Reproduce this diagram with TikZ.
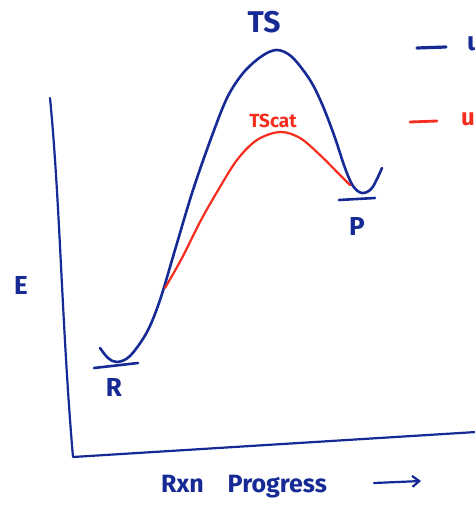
\documentclass[tikz,border=0pt]{standalone}
\usepackage{fontspec}
\setmainfont{Fira Sans}
\usetikzlibrary{arrows.meta}
\definecolor{inkblue}{RGB}{22,42,150}
\definecolor{inkred}{RGB}{245,45,30}
\begin{document}
\begin{tikzpicture}[x=1pt,y=-1pt,
  line cap=round, line join=round,
  bluepen/.style={draw=inkblue, line width=2.6pt},
  redpen/.style={draw=inkred, line width=2.2pt},
  bluelab/.style={text=inkblue, font=\bfseries\fontsize{26}{28}\selectfont, inner sep=0pt},
  redlab/.style={text=inkred, font=\bfseries\fontsize{19}{21}\selectfont, inner sep=0pt}]
\useasboundingbox (0,0) rectangle (474,510);
% axes
\coordinate (ytop) at (50,98);
\coordinate (corner) at (73,457);
\coordinate (xend) at (476,432);
\draw[bluepen, line width=2.2pt] (ytop) .. controls (60,200) and (62,330) .. (corner) -- (xend);
% labels
\node[bluelab] (E) at (21,285) {E};
\node[bluelab, font=\bfseries\fontsize{25}{27}\selectfont] (rxn) at (244,487) {Rxn\hspace{24pt}Progress};
\coordinate (arrs) at (374,483);
\coordinate (arre) at (421,481);
\draw[bluepen, line width=2.2pt, -{Straight Barb[length=7pt,width=11pt]}] (arrs) -- (arre);
% blue curve
\draw[bluepen] plot[smooth, tension=0.55] coordinates {(100,348) (108,358) (117,362) (130,356) (147,332) (160,300) (175,250) (193,190) (213,133) (228,96) (244,72) (262,56) (277,50) (292,57) (310,80) (322,104) (334,135) (345,168) (353,186) (362,193) (372,188) (382,168)};
% red curve
\draw[redpen] plot[smooth, tension=0.55] coordinates {(165,288) (182,258) (200,222) (217,192) (237,160) (257,140) (280,132) (300,138) (320,155) (338,173) (350,185)};
% R and P levels
\coordinate (r1) at (94,368); \coordinate (r2) at (138,363);
\draw[bluepen] (r1) -- (r2);
\coordinate (p1) at (339,200); \coordinate (p2) at (375,198);
\draw[bluepen] (p1) -- (p2);
\node[bluelab] (R) at (114,387) {R};
\node[bluelab] (P) at (357,226) {P};
\node[bluelab, font=\bfseries\fontsize{30}{32}\selectfont] (TS) at (264,22) {TS};
\node[redlab] (TScat) at (273,121) {TScat};
% legend
\coordinate (lb1) at (417,48); \coordinate (lb2) at (446,47);
\draw[bluepen, line width=3.2pt] (lb1) -- (lb2);
\coordinate (lr1) at (410,122); \coordinate (lr2) at (437,121);
\draw[redpen, line width=2.8pt] (lr1) -- (lr2);
\node[bluelab, anchor=west] (lbt) at (467,44) {u};
\node[redlab, anchor=west, font=\bfseries\fontsize{24}{26}\selectfont] (lrt) at (461,119) {u};
\end{tikzpicture}
\end{document}
